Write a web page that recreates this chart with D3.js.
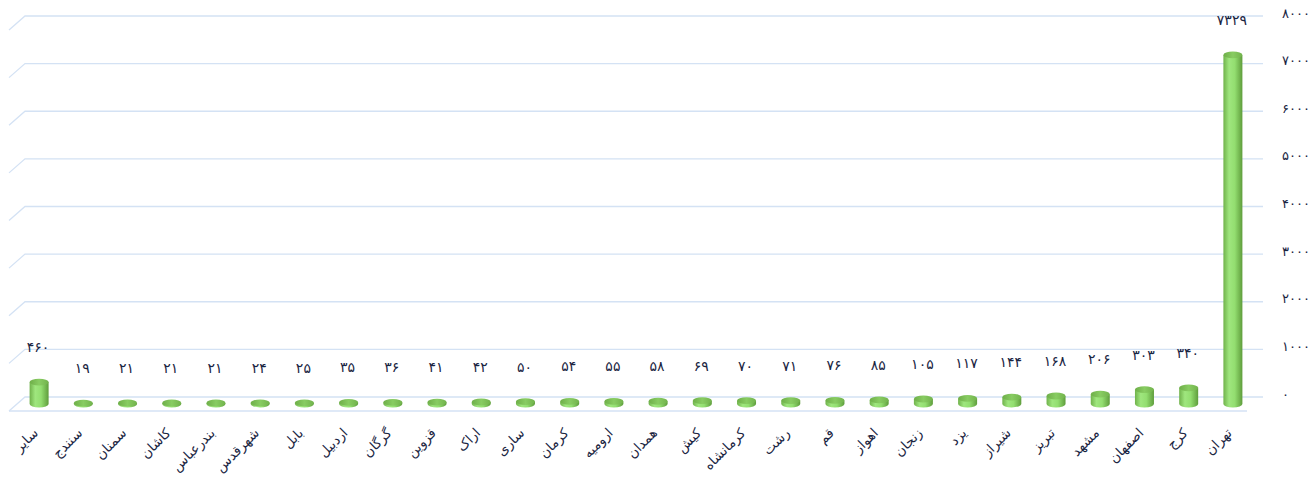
<!DOCTYPE html>
<html><head><meta charset="utf-8">
<script src="https://cdn.jsdelivr.net/npm/d3@7"></script>
<style>body{margin:0;background:#fff}svg{display:block}</style>
</head><body>
<svg id="c" width="1309" height="477"></svg>
<script>
const categories = ["سایر","سنندج","سمنان","کاشان","بندرعباس","شهرقدس","بابل","اردبیل","گرگان","قزوین","اراک","ساری","کرمان","ارومیه","همدان","کیش","کرمانشاه","رشت","قم","اهواز","زنجان","یزد","شیراز","تبریز","مشهد","اصفهان","کرج","تهران"];
const values = [460,19,21,21,21,24,25,35,36,41,42,50,54,55,58,69,70,71,76,85,105,117,144,168,206,303,340,7329];
const yTicks = [0,1000,2000,3000,4000,5000,6000,7000,8000];

const fa = n => String(n).replace(/\d/g, d => "۰۱۲۳۴۵۶۷۸۹"[+d]);

const svg = d3.select("#c");
const x = d3.scaleBand().domain(categories).range([17,1255]);
const y = d3.scaleLinear().domain([0,8000]).range([397,16]);
const dx = 8, dy = 7; // half depth offsets
const gridColor = "#d4e2f4";
const textColor = "#1a2542";

const defs = svg.append("defs");
const g1 = defs.append("linearGradient").attr("id","body").attr("x1","0").attr("x2","1").attr("y1","0").attr("y2","0");
[[0,"#70b24b"],[0.3,"#9fe67e"],[0.6,"#93de70"],[1,"#5f9d3c"]].forEach(s=>g1.append("stop").attr("offset",s[0]).attr("stop-color",s[1]));
const g2 = defs.append("linearGradient").attr("id","top").attr("x1","0").attr("x2","1").attr("y1","0").attr("y2","0");
[[0,"#6eae48"],[0.5,"#88cc62"],[1,"#72b34c"]].forEach(s=>g2.append("stop").attr("offset",s[0]).attr("stop-color",s[1]));

// gridlines (back wall + left side)
const grid = svg.append("g").attr("stroke",gridColor).attr("stroke-width",1.3).attr("fill","none");
const [r0,r1] = x.range();
yTicks.forEach(t=>{
  const yy = y(t);
  grid.append("path").attr("d",`M${r0-dx},${yy+2*dy}L${r0+dx},${yy}L${r1+dx},${yy}`);
});
grid.append("line").attr("x1",r0-dx).attr("x2",r1-dx).attr("y1",y(0)+2*dy).attr("y2",y(0)+2*dy);

// y axis labels
svg.append("g").selectAll("text").data(yTicks).join("text")
  .attr("x",1282).attr("y",d=>y(d)-2).attr("dominant-baseline","middle")
  .attr("font-family","DejaVu Sans, sans-serif").attr("font-size",13).attr("fill",textColor)
  .text(d=>fa(d));

// cylinders
const bw = 19, ry = 3.4;
const bars = svg.append("g").selectAll("g").data(categories).join("g");
bars.each(function(c,i){
  const g = d3.select(this);
  const cx = x(c)+x.bandwidth()/2;
  const yb = y(0)+dy, yt = y(values[i])+dy;
  g.append("path")
    .attr("d",`M${cx-bw/2},${yt}L${cx-bw/2},${yb}A${bw/2},${ry} 0 0 0 ${cx+bw/2},${yb}L${cx+bw/2},${yt}Z`)
    .attr("fill","url(#body)");
  g.append("ellipse").attr("cx",cx).attr("cy",yt).attr("rx",bw/2).attr("ry",ry).attr("fill","url(#top)");
});

// value labels
svg.append("g").selectAll("text").data(categories).join("text")
  .attr("x",c=>x(c)+x.bandwidth()/2-1).attr("y",(c,i)=>y(values[i])+dy-34)
  .attr("text-anchor","middle").attr("dominant-baseline","middle")
  .attr("font-family","DejaVu Sans, sans-serif").attr("font-size",14).attr("fill",textColor)
  .text((c,i)=>fa(values[i]));

// category labels
svg.append("g").selectAll("text").data(categories).join("text")
  .attr("transform",c=>`translate(${x(c)+x.bandwidth()/2-3},${y(0)+2*dy+20}) rotate(-45)`)
  .attr("text-anchor","end").attr("dominant-baseline","middle")
  .attr("font-family","DejaVu Sans, sans-serif").attr("font-size",13.5).attr("fill",textColor)
  .text(c=>c);
</script>
</body></html>
